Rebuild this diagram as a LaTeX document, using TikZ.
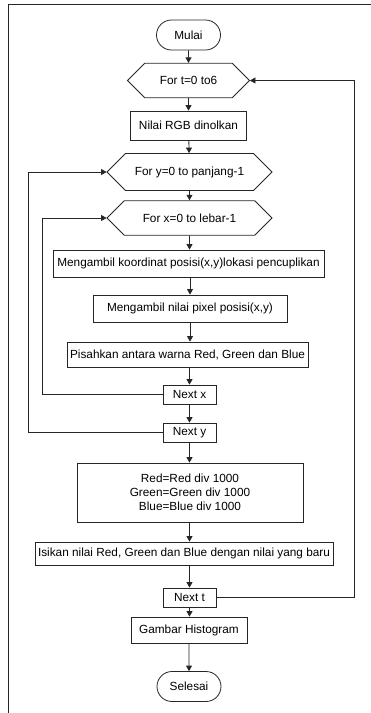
\documentclass[tikz,border=0pt]{standalone}
\usepackage{fontspec}
\setmainfont{Liberation Sans}
\usetikzlibrary{shapes.misc,arrows.meta}

\tikzset{
  line/.style={draw=black!85, line width=0.8pt},
  arrow/.style={line, -{Triangle[length=5.5pt,width=6pt]}},
  term/.style={line, rounded rectangle, minimum width=64pt, minimum height=30pt, inner sep=0pt},
  proc/.style={line, rectangle, inner sep=0pt},
  loophex/.style={line, chamfered rectangle, chamfered rectangle xsep=12pt,
    chamfered rectangle ysep=13pt, inner sep=0pt, minimum height=26.5pt}
}

\begin{document}
\begin{tikzpicture}[x=1pt, y=-1pt, font=\fontsize{11.8}{14.2}\selectfont]
  \useasboundingbox (0,0) rectangle (371,713);
  % Frame
  \draw[line] (371,4) -- (8,4) -- (8,713);

  % Nodes
  \node[term] (mulai) at (188.5,35) {Mulai};
  \node[loophex, minimum width=122pt] (fort) at (188.5,80.5) {For t=0 to6};
  \node[proc, minimum width=116pt, minimum height=29pt] (nilai) at (188.5,125.5) {Nilai RGB dinolkan};
  \node[loophex, minimum width=165pt] (fory) at (189.5,172) {For y=0 to panjang-1};
  \node[loophex, minimum width=165pt] (forx) at (189.5,218) {For x=0 to lebar-1};
  \node[proc, minimum width=271pt, minimum height=27pt] (koord) at (188.5,263.5) {Mengambil koordinat posisi(x,y)lokasi pencuplikan};
  \node[proc, minimum width=194pt, minimum height=27pt] (pixel) at (190,308.5) {Mengambil nilai pixel posisi(x,y)};
  \node[proc, minimum width=241pt, minimum height=25pt] (pisah) at (187.5,354.5) {Pisahkan antara warna Red, Green dan Blue};
  \node[proc, minimum width=53pt, minimum height=19pt] (nextx) at (189.5,394.5) {Next x};
  \node[proc, minimum width=53pt, minimum height=19pt] (nexty) at (189.5,432.5) {Next y};
  \node[proc, minimum width=226pt, minimum height=59pt, align=center] (bagi) at (190,492.5)
    {Red=Red div 1000\\Green=Green div 1000\\Blue=Blue div 1000};
  \node[proc, minimum width=298pt, minimum height=23pt] (isi) at (184,553.5) {Isikan nilai Red, Green dan Blue dengan nilai yang baru};
  \node[proc, minimum width=53pt, minimum height=19pt] (nextt) at (189.5,597.5) {Next t};
  \node[proc, minimum width=116pt, minimum height=26pt] (gambar) at (189,630) {Gambar Histogram};
  \node[term] (selesai) at (189,686.5) {Selesai};

  % Loop rails
  \coordinate (railt) at (354,0);
  \coordinate (raily) at (28,0);
  \coordinate (railx) at (42,0);

  % Main flow
  \draw[arrow] (mulai) -- (fort);
  \draw[arrow] (fort) -- (nilai);
  \draw[arrow] (nilai) -- (fory);
  \draw[arrow] (fory) -- (forx);
  \draw[arrow] (forx) -- (forx |- koord.north);
  \draw[arrow] (koord.south -| pixel) -- (pixel);
  \draw[arrow] (pixel) -- (pixel |- pisah.north);
  \draw[arrow] (pisah.south -| nextx) -- (nextx);
  \draw[arrow] (nextx) -- (nexty);
  \draw[arrow] (nexty) -- (nexty |- bagi.north);
  \draw[arrow] (bagi.south -| nextt) -- (nextt |- isi.north);
  \draw[arrow] (isi.south -| nextt) -- (nextt);
  \draw[arrow] (nextt) -- (nextt |- gambar.north);
  \draw[arrow] (gambar.south -| selesai) -- (selesai);

  % Loops back
  \draw[arrow] (nextx.west) -- (nextx.west -| railx) |- (forx.west);
  \draw[arrow] (nexty.west) -- (nexty.west -| raily) |- (fory.west);
  \draw[arrow] (nextt.east) -- (nextt.east -| railt) |- (fort.east);
\end{tikzpicture}
\end{document}
